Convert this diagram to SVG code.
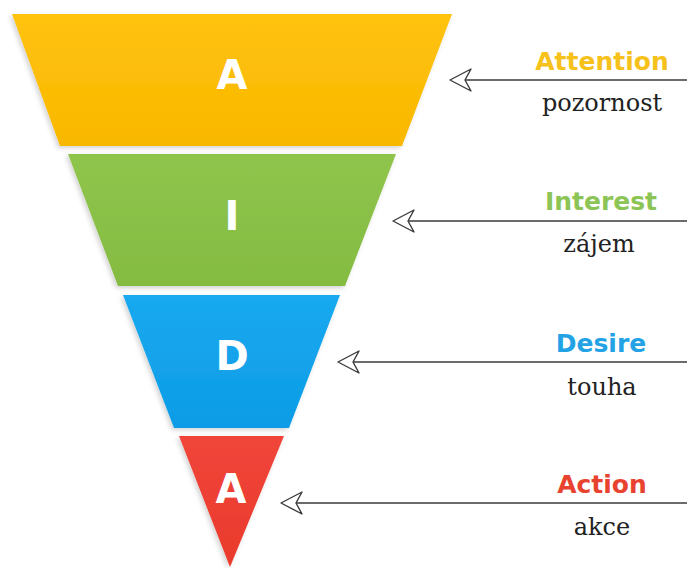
<svg xmlns="http://www.w3.org/2000/svg" width="687" height="568" viewBox="0 0 687 568">
<style>
.letter{font-family:"DejaVu Sans",sans-serif;font-weight:bold;font-size:40px;fill:#ffffff;text-anchor:middle}
.en{font-family:"DejaVu Sans",sans-serif;font-weight:bold;font-size:25px;text-anchor:middle}
.cz{font-family:"DejaVu Serif",serif;font-size:24px;fill:#222222;text-anchor:middle}
.shaft{stroke:#3a3a3a;stroke-width:1.6;fill:none}
.head{stroke:#3a3a3a;stroke-width:1.4;fill:#ffffff;stroke-linejoin:round}
.gloss{fill:none;stroke:#ffffff;stroke-opacity:0.3;stroke-width:4;filter:url(#blur)}
</style>
<defs>
<filter id="sh" x="-10%" y="-10%" width="120%" height="120%">
<feDropShadow dx="-2" dy="2" stdDeviation="2.5" flood-color="#000000" flood-opacity="0.18"/>
</filter>
<filter id="blur" x="-20%" y="-200%" width="140%" height="500%">
<feGaussianBlur stdDeviation="1.5"/>
</filter>
<linearGradient id="gy" x1="0" y1="0" x2="0" y2="1"><stop offset="0" stop-color="#ffc20e"/><stop offset="1" stop-color="#f9b800"/></linearGradient>
<linearGradient id="gg" x1="0" y1="0" x2="0" y2="1"><stop offset="0" stop-color="#8fc54c"/><stop offset="1" stop-color="#84bb41"/></linearGradient>
<linearGradient id="gb" x1="0" y1="0" x2="0" y2="1"><stop offset="0" stop-color="#1aa9f0"/><stop offset="1" stop-color="#0c9ce6"/></linearGradient>
<linearGradient id="gr" x1="0" y1="0" x2="0" y2="1"><stop offset="0" stop-color="#f0453a"/><stop offset="1" stop-color="#ea3a2c"/></linearGradient>
</defs>
<rect width="687" height="568" fill="#ffffff"/>

<g id="stage-attention">
<polygon points="12,14 452,14 402,146 60,146" fill="url(#gy)" filter="url(#sh)"/>
<path class="gloss" d="M30,25 L160,25"/>
<text class="letter" x="232" y="89">A</text>
</g>

<g id="stage-interest">
<polygon points="68,154 396,154 345,286 118,286" fill="url(#gg)" filter="url(#sh)"/>
<path class="gloss" d="M84,163 L210,163"/>
<text class="letter" x="232" y="230">I</text>
</g>

<g id="stage-desire">
<polygon points="123,295 340,295 289,428 174,428" fill="url(#gb)" filter="url(#sh)"/>
<path class="gloss" d="M138,304 L225,304"/>
<text class="letter" x="232" y="370">D</text>
</g>

<g id="stage-action">
<polygon points="179,436 284,436 230,567" fill="url(#gr)" filter="url(#sh)"/>
<path class="gloss" d="M192,445 L255,445"/>
<text class="letter" x="231" y="503">A</text>
</g>

<g id="label-attention">
<text class="en" x="602" y="70" fill="#f5c11a">Attention</text>
<text class="cz" x="602" y="111">pozornost</text>
</g>
<g id="label-interest">
<text class="en" x="601" y="210" fill="#8cc455">Interest</text>
<text class="cz" x="599" y="252">zájem</text>
</g>
<g id="label-desire">
<text class="en" x="601" y="352" fill="#23a3e6">Desire</text>
<text class="cz" x="602" y="395">touha</text>
</g>
<g id="label-action">
<text class="en" x="602" y="493" fill="#e8432f">Action</text>
<text class="cz" x="602" y="535">akce</text>
</g>

<g id="connectors">
<path class="shaft" d="M687,80 L465,80"/>
<path class="head" d="M450,80 L471,69 L465,80 L471,91 Z"/>
<path class="shaft" d="M687,221 L408,221"/>
<path class="head" d="M393,221 L414,210 L408,221 L414,232 Z"/>
<path class="shaft" d="M687,362 L353,362"/>
<path class="head" d="M338,362 L359,351 L353,362 L359,373 Z"/>
<path class="shaft" d="M687,503 L296,503"/>
<path class="head" d="M281,503 L302,492 L296,503 L302,514 Z"/>
</g>
</svg>
